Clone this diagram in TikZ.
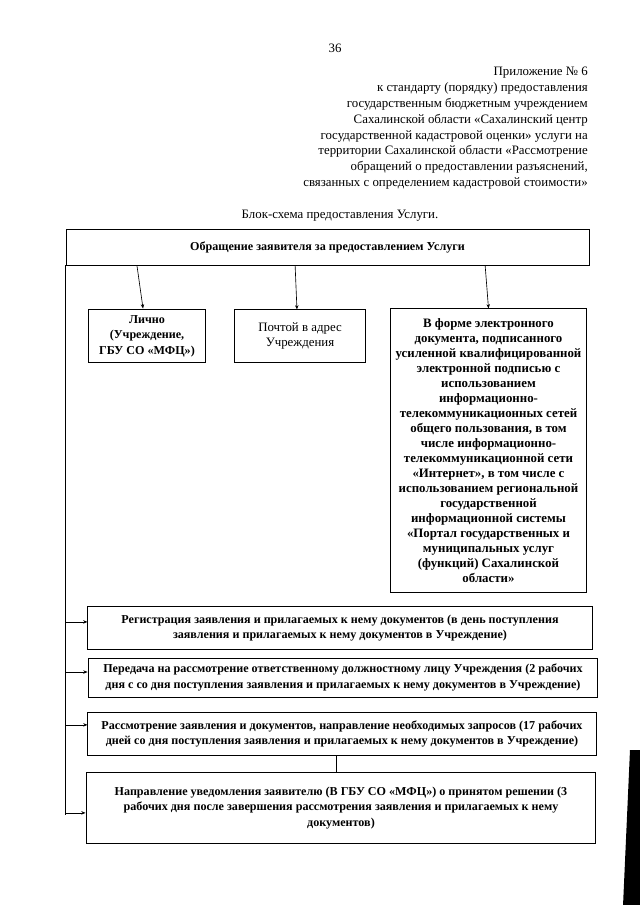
\documentclass[tikz,border=0pt]{standalone}
\usepackage{fontspec}
\setmainfont{Liberation Serif}
\usepackage{tikz}
\usetikzlibrary{arrows.meta,positioning,calc}

\begin{document}
\begin{tikzpicture}[
  x=0.328125mm, y=-0.328125mm,
  box/.style={rectangle, draw=black, line width=0.9pt, inner sep=0pt,
              align=center, font=\fontsize{12}{14}\selectfont},
  boldbox/.style={box, font=\fontsize{12}{14}\selectfont\bfseries},
  stagebox/.style={box, font=\fontsize{11.3}{14.4}\selectfont\bfseries},
  conn/.style={line width=0.6pt},
  arr/.style={conn, -{Stealth[length=4pt,width=3.2pt]}},
  lbl/.style={inner sep=0pt, font=\fontsize{12}{14.8}\selectfont}
]
  \useasboundingbox[fill=white] (0,0) rectangle (640,905);
  \node[lbl] (pagenum) at (335,48) {36};
  \node[lbl, align=right, anchor=north east] (annex) at (588,67)
    {Приложение № 6\\
     к стандарту (порядку) предоставления\\
     государственным бюджетным учреждением\\
     Сахалинской области «Сахалинский центр\\
     государственной кадастровой оценки» услуги на\\
     территории Сахалинской области «Рассмотрение\\
     обращений о предоставлении разъяснений,\\
     связанных с определением кадастровой стоимости»};
  \node[lbl] (title) at (340,216) {Блок-схема предоставления Услуги.};

  \node[stagebox, minimum width=171.6mm, minimum height=11.8mm] (req) at (327.5,247)
    {Обращение заявителя за предоставлением Услуги};
  \node[stagebox, minimum width=38.7mm, minimum height=17.7mm] (lichno) at (147,336)
    {Лично\\(Учреждение,\\ГБУ СО «МФЦ»)};
  \node[box, minimum width=42.7mm, minimum height=17.1mm] (pochta) at (300,336)
    {Почтой в адрес\\Учреждения};
  \node[boldbox, minimum width=64mm, minimum height=92.9mm] (elec) at (488.5,450.5)
    {В форме электронного\\
     документа, подписанного\\
     усиленной квалифицированной\\
     электронной подписью с\\
     использованием\\
     информационно-\\
     телекоммуникационных сетей\\
     общего пользования, в том\\
     числе информационно-\\
     телекоммуникационной сети\\
     «Интернет», в том числе с\\
     использованием региональной\\
     государственной\\
     информационной системы\\
     «Портал государственных и\\
     муниципальных услуг\\
     (функций) Сахалинской\\
     области»};

  \node[stagebox, minimum width=165.4mm, minimum height=13.8mm] (reg) at (340,628)
    {Регистрация заявления и прилагаемых к нему документов (в день поступления\\
     заявления и прилагаемых к нему документов в Учреждение)};
  \node[stagebox, minimum width=167.3mm, minimum height=12.8mm] (pered) at (343,677.5)
    {Передача на рассмотрение ответственному должностному лицу Учреждения (2 рабочих\\
     дня с со дня поступления заявления и прилагаемых к нему документов в Учреждение)};
  \node[stagebox, minimum width=166.7mm, minimum height=14.4mm] (rassm) at (342,734)
    {Рассмотрение заявления и документов, направление необходимых запросов (17 рабочих\\
     дней со дня поступления заявления и прилагаемых к нему документов в Учреждение)};
  \node[stagebox, minimum width=167.3mm, minimum height=23mm] (naprav) at (341,808)
    {Направление уведомления заявителю (В ГБУ СО «МФЦ») о принятом решении (3\\
     рабочих дня после завершения рассмотрения заявления и прилагаемых к нему\\
     документов)};

  \draw[arr] ([xshift=-3.3mm]lichno.north |- req.south) -- ([xshift=-1.3mm]lichno.north);
  \draw[arr] ([xshift=-1.6mm]pochta.north |- req.south) -- ([xshift=-1mm]pochta.north);
  \draw[arr] ([xshift=-1.1mm]elec.north |- req.south) -- (elec.north);

  \draw[conn] (req.south west) -- ++(0,550);
  \coordinate (inreg) at ([yshift=2mm]reg.west);
  \coordinate (inpered) at ([yshift=1.8mm]pered.west);
  \coordinate (inrassm) at ([yshift=3mm]rassm.west);
  \coordinate (innaprav) at ([yshift=-1.6mm]naprav.west);
  \draw[arr] (req.south west |- inreg) -- (inreg);
  \draw[arr] (req.south west |- inpered) -- (inpered);
  \draw[arr] (req.south west |- inrassm) -- (inrassm);
  \draw[arr] (req.south west |- innaprav) -- (innaprav);
  \draw[conn] ([xshift=-2mm]rassm.south) -- ([xshift=-2mm]rassm.south |- naprav.north);

  \fill (630,750) -- (641,750) -- (641,906) -- (623,906) -- cycle;
\end{tikzpicture}
\end{document}
